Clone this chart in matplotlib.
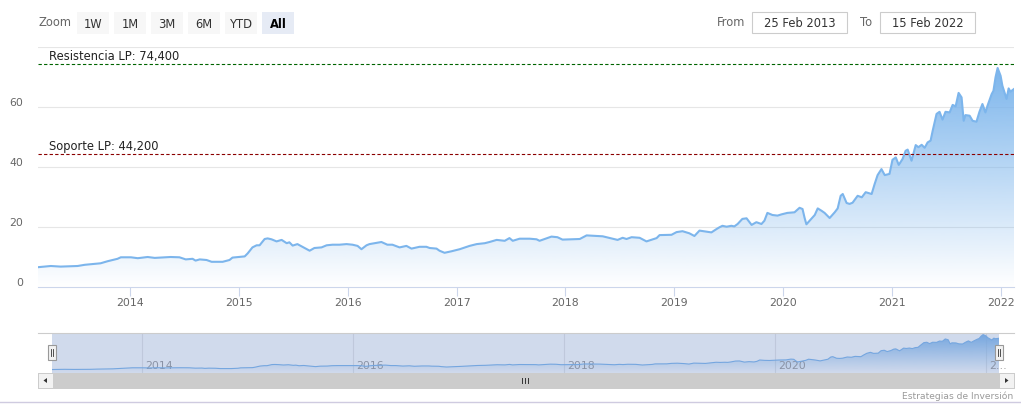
import numpy as np
import pandas as pd
import matplotlib
matplotlib.use("Agg")
import matplotlib.pyplot as plt
import matplotlib.dates as mdates
from matplotlib.patches import Rectangle, Polygon
from matplotlib.transforms import blended_transform_factory

# price series
dates = [
    "2013-02-25", "2013-04-09", "2013-05-12", "2013-07-08", "2013-08-01", "2013-09-23",
    "2013-10-17", "2013-11-19", "2013-11-30", "2014-01-03", "2014-01-26", "2014-02-28",
    "2014-03-24", "2014-05-16", "2014-06-15", "2014-07-06", "2014-07-29", "2014-08-08",
    "2014-08-22", "2014-09-14", "2014-10-01", "2014-11-07", "2014-11-30", "2014-12-10",
    "2015-01-20", "2015-01-30", "2015-02-15", "2015-03-01", "2015-03-11", "2015-03-28",
    "2015-04-07", "2015-04-20", "2015-05-07", "2015-05-24", "2015-06-10", "2015-06-19",
    "2015-06-30", "2015-07-16", "2015-08-02", "2015-08-26", "2015-09-11", "2015-10-05",
    "2015-10-22", "2015-11-11", "2015-12-04", "2015-12-28", "2016-01-17", "2016-02-03",
    "2016-02-16", "2016-03-04", "2016-03-14", "2016-04-23", "2016-05-13", "2016-05-30",
    "2016-06-23", "2016-07-16", "2016-08-02", "2016-08-29", "2016-09-21", "2016-10-02",
    "2016-10-25", "2016-11-04", "2016-11-21", "2016-12-14", "2017-01-11", "2017-02-13",
    "2017-03-09", "2017-04-05", "2017-04-21", "2017-05-15", "2017-06-11", "2017-06-27",
    "2017-07-08", "2017-07-31", "2017-09-03", "2017-09-26", "2017-10-06", "2017-11-15",
    "2017-12-05", "2017-12-22", "2018-02-18", "2018-03-13", "2018-05-06", "2018-06-25",
    "2018-07-12", "2018-07-25", "2018-08-11", "2018-09-07", "2018-09-30", "2018-11-03",
    "2018-11-13", "2018-12-23", "2019-01-09", "2019-01-29", "2019-02-21", "2019-03-10",
    "2019-03-27", "2019-05-06", "2019-05-23", "2019-06-02", "2019-06-12", "2019-06-26",
    "2019-07-12", "2019-07-22", "2019-08-02", "2019-08-18", "2019-09-01", "2019-09-18",
    "2019-10-04", "2019-10-21", "2019-10-31", "2019-11-10", "2019-11-27", "2019-12-14",
    "2019-12-27", "2020-01-16", "2020-02-09", "2020-02-26", "2020-03-07", "2020-03-14",
    "2020-03-20", "2020-03-31", "2020-04-17", "2020-04-27", "2020-05-10", "2020-05-20",
    "2020-06-06", "2020-06-23", "2020-07-03", "2020-07-13", "2020-07-20", "2020-08-02",
    "2020-08-12", "2020-08-22", "2020-09-08", "2020-09-22", "2020-10-05", "2020-10-25",
    "2020-11-04", "2020-11-14", "2020-11-27", "2020-12-08", "2020-12-24", "2021-01-03",
    "2021-01-14", "2021-01-24", "2021-02-06", "2021-02-16", "2021-02-23", "2021-03-08",
    "2021-03-22", "2021-03-31", "2021-04-11", "2021-04-21", "2021-05-01", "2021-05-11",
    "2021-05-18", "2021-05-31", "2021-06-10", "2021-06-20", "2021-06-30", "2021-07-14",
    "2021-07-24", "2021-08-03", "2021-08-13", "2021-08-23", "2021-08-30", "2021-09-05",
    "2021-09-19", "2021-09-29", "2021-10-12", "2021-10-22", "2021-11-01", "2021-11-11",
    "2021-11-18", "2021-12-02", "2021-12-08", "2021-12-15", "2021-12-22", "2022-01-01",
    "2022-01-07", "2022-01-21", "2022-01-28", "2022-02-03", "2022-02-15",
]
values = [
    6.6, 7.0, 6.8, 7.0, 7.4, 7.9,
    8.6, 9.4, 9.9, 9.9, 9.6, 10.0,
    9.7, 10.0, 9.9, 9.2, 9.4, 8.8,
    9.2, 9.0, 8.4, 8.4, 9.0, 9.8,
    10.2, 11.2, 13.2, 13.9, 13.9, 16.0,
    16.2, 15.9, 15.2, 15.7, 14.6, 14.9,
    13.8, 14.3, 13.4, 12.1, 13.0, 13.2,
    13.9, 14.1, 14.1, 14.3, 14.1, 13.7,
    12.6, 13.9, 14.3, 15.0, 14.1, 14.1,
    13.2, 13.7, 12.8, 13.4, 13.4, 13.0,
    12.8, 12.1, 11.4, 11.9, 12.6, 13.7,
    14.3, 14.6, 15.0, 15.7, 15.4, 16.3,
    15.4, 16.1, 16.1, 15.9, 15.4, 16.8,
    16.6, 15.8, 16.0, 17.2, 16.9, 15.7,
    16.4, 16.0, 16.6, 16.4, 15.2, 16.3,
    17.3, 17.4, 18.3, 18.6, 17.9, 17.0,
    18.8, 18.2, 19.3, 19.9, 20.4, 20.1,
    20.4, 20.2, 21.0, 22.7, 22.9, 20.7,
    21.6, 21.0, 22.1, 24.7, 24.0, 23.8,
    24.2, 24.7, 24.9, 26.4, 26.0, 23.0,
    20.9, 22.1, 24.0, 26.2, 25.4, 24.7,
    23.0, 24.9, 26.2, 30.4, 31.0, 28.0,
    27.7, 28.1, 30.4, 29.9, 31.6, 31.0,
    34.3, 37.3, 39.3, 37.3, 37.7, 42.4,
    43.2, 40.7, 42.7, 45.4, 45.8, 42.1,
    47.3, 46.6, 47.4, 46.4, 48.2, 48.8,
    52.1, 57.7, 58.4, 55.8, 58.4, 58.2,
    60.7, 60.2, 64.7, 63.2, 55.4, 57.3,
    57.1, 55.4, 55.1, 58.4, 61.0, 58.2,
    60.4, 64.3, 65.4, 69.9, 73.0, 70.4,
    67.1, 62.7, 66.2, 65.1, 66.0,
]

resistance = 74.4
support = 44.2
y_ticks = [0, 20, 40, 60, 80]
year_ticks = [2014, 2015, 2016, 2017, 2018, 2019, 2020, 2021, 2022]
nav_years = [2014, 2016, 2018, 2020, 2022]
zoom_buttons = ["1W", "1M", "3M", "6M", "YTD", "All"]
from_date = "25 Feb 2013"
to_date = "15 Feb 2022"
credit = "Estrategias de Inversión"

W, H = 1021, 414
BLUE = "#7cb5ec"
BLUE_RGB = (124 / 255, 181 / 255, 236 / 255)

plt.rcParams["font.family"] = ["DejaVu Sans"]
fig = plt.figure(figsize=(W / 100, H / 100), dpi=100)


def px_axes(x0, y0, x1, y1, **kw):
    return fig.add_axes([x0 / W, 1 - y1 / H, (x1 - x0) / W, (y1 - y0) / H], **kw)


def gradient_area(ax, x, y, top):
    poly = ax.fill_between(x, y, 0, color="none", lw=0)
    rgba = np.zeros((256, 1, 4))
    rgba[..., 0], rgba[..., 1], rgba[..., 2] = BLUE_RGB
    rgba[..., 3] = np.linspace(1, 0, 256)[:, None]
    im = ax.imshow(rgba, extent=[x[0], x[-1], 0, top], aspect="auto",
                   origin="upper", zorder=1, interpolation="bilinear")
    im.set_clip_path(poly.get_paths()[0], transform=ax.transData)


x = mdates.date2num(pd.to_datetime(dates))
y = np.array(values)
x0 = mdates.date2num(pd.Timestamp("2013-02-25"))
x1 = mdates.date2num(pd.Timestamp("2022-02-15"))

# main chart
ax = px_axes(38, 48, 1014, 288)
gradient_area(ax, x, y, y.max())
ax.plot(x, y, color=BLUE, lw=1.5, zorder=3, solid_joinstyle="round")
ax.set_xlim(x0, x1)
ax.set_ylim(0, 80)
for v in y_ticks[1:]:
    ax.axhline(v, color="#e6e6e6", lw=0.8, zorder=0)
for s in ["top", "right", "left"]:
    ax.spines[s].set_visible(False)
ax.spines["bottom"].set_color("#ccd6eb")
ax.set_yticks([])
ax.set_xticks([mdates.date2num(pd.Timestamp(f"{yr}-01-01")) for yr in year_ticks])
ax.set_xticklabels([str(yr) for yr in year_ticks])
ax.tick_params(axis="x", length=6.5, color="#ccd6eb", width=0.8, pad=1.0,
               labelsize=7.8, labelcolor="#666666")
trans = blended_transform_factory(ax.transAxes, ax.transData)
for v in y_ticks[:-1]:
    ax.annotate(str(v), (0, v), xycoords=trans, xytext=(-10.8, 3.8),
                textcoords="offset points", ha="right", va="center",
                fontsize=7.8, color="#666666", annotation_clip=False)

# support / resistance lines
for val, name, col in [(resistance, "Resistencia LP", "#006400"),
                       (support, "Soporte LP", "#8b0000")]:
    ax.axhline(val, color=col, lw=0.8, ls=(0, (3, 2)), zorder=4)
    ax.annotate(f"{name}: {val * 1000:,.0f}", (0.011, val), xycoords=trans,
                xytext=(0, 1.5), textcoords="offset points", ha="left", va="bottom",
                fontsize=8.3, color="#222222", zorder=5)

# navigator
nav = px_axes(52, 334, 999, 374)
gradient_area(nav, x, y, y.max())
nav.plot(x, y, color=BLUE, lw=0.8, zorder=3)
nav.set_xlim(x0, x1)
nav.set_ylim(0, 76)
nav.axis("off")
ntrans = blended_transform_factory(nav.transData, nav.transAxes)
day_px = (x1 - x0) / 947
for yr in nav_years:
    xv = mdates.date2num(pd.Timestamp(f"{yr}-01-01"))
    nav.axvline(xv, color="#e6e6e6", lw=0.8, zorder=0)
    lab = str(yr) if yr < 2022 else "2…"
    nav.text(xv + 3.5 * day_px, 0.2, lab, transform=ntrans, ha="left", va="center",
             fontsize=7.8, color="#999999", zorder=2, clip_on=False)

# UI overlay in pixel coordinates
ui = fig.add_axes([0, 0, 1, 1], zorder=5)
ui.set_xlim(0, W)
ui.set_ylim(H, 0)
ui.axis("off")

ui.add_patch(Rectangle((52, 334), 947, 40, fc=(102 / 255, 133 / 255, 194 / 255, 0.3), ec="none"))
ui.plot([38, 1014], [334, 334], color="#cccccc", lw=0.8)

# scrollbar
ui.add_patch(Rectangle((38, 374), 976, 15, fc="#cccccc", ec="#cccccc", lw=0.7))
for bx, pts in [(38, [(43.5, 381.5), (47, 379), (47, 384)]),
                (999, [(1008.5, 381.5), (1005, 379), (1005, 384)])]:
    ui.add_patch(Rectangle((bx, 374), 15, 15, fc="#f2f2f2", ec="#cccccc", lw=0.7))
    ui.add_patch(Polygon(pts, closed=True, fc="#333333", ec="none"))
for gx in [522, 525, 528]:
    ui.plot([gx, gx], [378.5, 384.5], color="#333333", lw=0.7)

# navigator handles
for hx in [48, 995]:
    ui.add_patch(Rectangle((hx, 346), 8, 15, fc="#f2f2f2", ec="#999999", lw=0.8))
    for gx in [hx + 3, hx + 5]:
        ui.plot([gx, gx], [350, 357], color="#333333", lw=0.6)

# range selector
ui.text(38, 23, "Zoom", ha="left", va="center", fontsize=8.3, color="#666666")
for i, lab in enumerate(zoom_buttons):
    bx = 77 + i * 37
    sel = lab == "All"
    ui.add_patch(Rectangle((bx, 13), 32, 22, fc="#e6ebf5" if sel else "#f7f7f7", ec="none"))
    ui.text(bx + 16, 24, lab, ha="center", va="center", fontsize=8.3,
            color="#000000" if sel else "#333333", fontweight="bold" if sel else "normal")

ui.text(745, 23, "From", ha="right", va="center", fontsize=8.3, color="#666666")
ui.text(872, 23, "To", ha="right", va="center", fontsize=8.3, color="#666666")
for bx, txt in [(752, from_date), (880, to_date)]:
    ui.add_patch(Rectangle((bx, 13), 95, 21, fc="white", ec="#cccccc", lw=0.8))
    ui.text(bx + 47.5, 23.5, txt, ha="center", va="center", fontsize=8.3, color="#333333")

ui.text(1013, 396, credit, ha="right", va="center", fontsize=6.6, color="#999999")
ui.plot([0, W], [403, 403], color="#cfcbe0", lw=1)

fig.savefig("out.png", dpi=100)
